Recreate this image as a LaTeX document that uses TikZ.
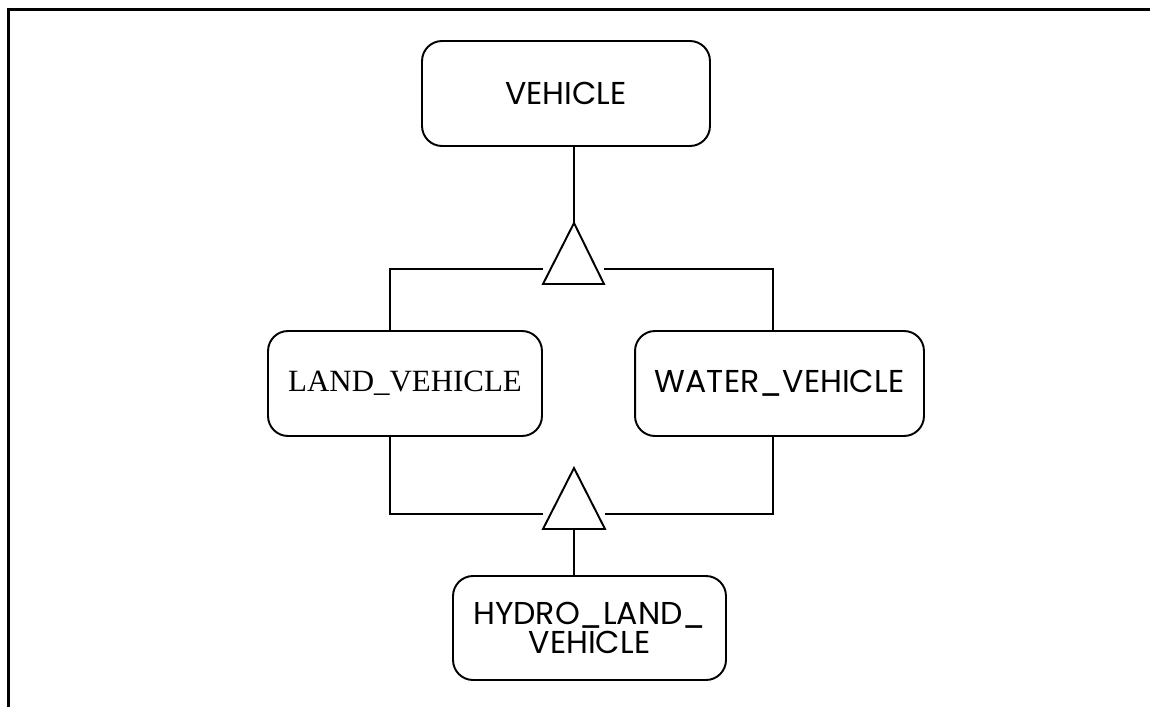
\documentclass[tikz,border=0pt]{standalone}
\usepackage{fontspec}
\setmainfont{Poppins}
\newfontfamily\timesFont{Liberation Serif}
\usetikzlibrary{calc}

\begin{document}
\begin{tikzpicture}[x=0.02cm, y=-0.02cm, line width=1.1pt,
    classBox/.style={draw, rounded corners=0.4cm, inner sep=0pt, align=center,
        minimum height=2.1cm, font=\fontsize{18}{17}\selectfont}]

%%Paramaters
%% y of the joining lines, can be modified
\def\upJoinPos{ 269 }
\def\lowJoinPos{ 514 }

    \useasboundingbox (0,0) rectangle (1150,707);
    \draw[line width=1.7pt] (8.8,707) -- (8.8,9.5) -- (1150,9.5);

    %% classes
    \node[classBox, minimum width=5.76cm] at (566, 93.5) (vehicle) {VEHICLE};
    \node[classBox, minimum width=5.48cm] at (405, 383.5) (landVehicle) {\timesFont\fontsize{17.6}{17}\selectfont LAND\_VEHICLE};
    \node[classBox, minimum width=5.78cm] at (779.5, 383.5) (waterVehicle) {WATER\_VEHICLE};
    \node[classBox, minimum width=5.46cm, minimum height=2.08cm] at (589.5, 628) (hydroLandVehicle) {HYDRO\_LAND\_\\VEHICLE};

    %% upper triangle : VEHICLE -> LAND_VEHICLE, WATER_VEHICLE
    \coordinate (topApex) at (574, 223);
    \coordinate (topBaseL) at (543, 284);
    \coordinate (topBaseR) at (604, 284);
    \draw (topApex) -- (topBaseL) -- (topBaseR) -- cycle;

        \draw (vehicle.south -| topApex) -- (topApex);

    \coordinate (topJoinL) at (390, \upJoinPos);
    \coordinate (topJoinR) at (773, \upJoinPos);

        \draw (landVehicle.north -| topJoinL) -- (topJoinL) -- (topJoinL -| topBaseL);
        \draw (waterVehicle.north -| topJoinR) -- (topJoinR) -- (topJoinR -| topBaseR);


    %% lower triangle : LAND_VEHICLE, WATER_VEHICLE -> HYDRO_LAND_VEHICLE
    \coordinate (botApex) at (574, 468);
    \coordinate (botBaseL) at (543, 529);
    \coordinate (botBaseR) at (605, 529);
    \draw (botApex) -- (botBaseL) -- (botBaseR) -- cycle;

    \coordinate (botJoinL) at (390, \lowJoinPos);
    \coordinate (botJoinR) at (773, \lowJoinPos);

        \draw (landVehicle.south -| botJoinL) -- (botJoinL) -- (botJoinL -| botBaseL);
        \draw (waterVehicle.south -| botJoinR) -- (botJoinR) -- (botJoinR -| botBaseR);

        \draw (botApex |- botBaseL) -- (hydroLandVehicle.north -| botApex);

\end{tikzpicture}
\end{document}
